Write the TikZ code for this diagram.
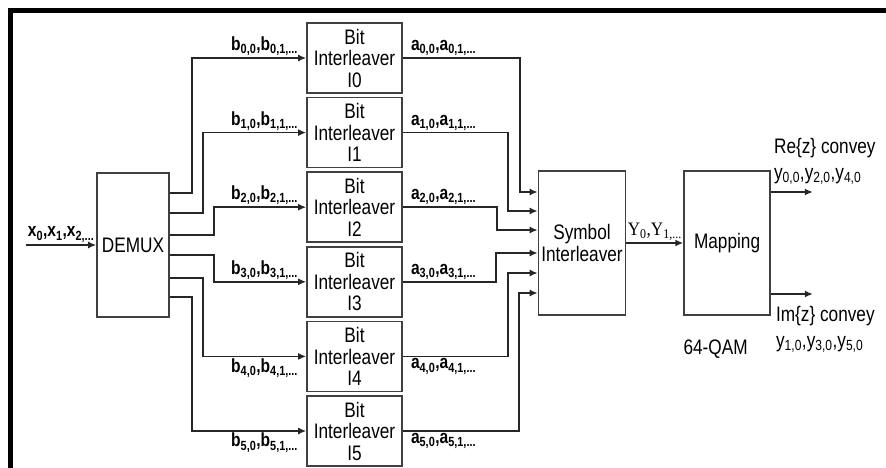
\documentclass[tikz,border=0pt]{standalone}
\usepackage{fontspec}
\setmainfont[FakeStretch=0.82]{Liberation Sans}
\newfontfamily\serfont[FakeStretch=0.9]{Liberation Serif}
\usetikzlibrary{arrows.meta,positioning}
\tikzset{
  block/.style={draw=black!75, line width=1.6pt, align=center, inner sep=0pt,
                font=\fontsize{21}{21.5}\selectfont},
  bitbox/.style={block, minimum width=95pt, minimum height=70pt},
  bigbox/.style={block, minimum width=87pt, minimum height=144pt},
  flowarrow/.style={-{Latex[length=8pt,width=7pt]}, line width=1.6pt, draw=black!85},
  seq/.style={font=\fontsize{19}{20}\selectfont\bfseries, inner sep=2pt},
  outlbl/.style={font=\fontsize{21}{26}\selectfont, align=left, inner sep=2pt}
}
\newcommand{\sq}[2]{#1\textsubscript{#2}}

\begin{document}
\begin{tikzpicture}[x=1pt, y=-1pt]
  \useasboundingbox (0,0) rectangle (886,468);
  \draw[line width=4.5pt] (900,10.5) -- (10.5,10.5) -- (10.5,480);

  \node[block, minimum width=72pt, minimum height=144pt] (demux) at (133,245) {DEMUX};
  \node[bitbox] (bi0) at (354.5,58) {Bit\\Interleaver\\I0};
  \node[bitbox, below=3pt of bi0] (bi1) {Bit\\Interleaver\\I1};
  \node[bitbox, below=3pt of bi1] (bi2) {Bit\\Interleaver\\I2};
  \node[bitbox, below=3pt of bi2] (bi3) {Bit\\Interleaver\\I3};
  \node[bitbox, below=3pt of bi3] (bi4) {Bit\\Interleaver\\I4};
  \node[bitbox, below=3pt of bi4] (bi5) {Bit\\Interleaver\\I5};
  \node[bigbox] (sym) at (582,243) {Symbol\\Interleaver};
  \node[bigbox, minimum width=86pt, right=57pt of sym] (map) {Mapping};
  \node[outlbl, anchor=north west, inner sep=0pt] (qam)
    at ([yshift=-24pt]map.south west) {64-QAM};

  \coordinate (xin) at (26,245);
  \draw[flowarrow] (xin)
    -- node[seq, above] {\sq{x}{0},\sq{x}{1},\sq{x}{2,...}} (demux.west);

  \draw[flowarrow] ([yshift=52pt]demux.east) -- ++(22,0) |- (bi0.west);
  \draw[flowarrow] ([yshift=32pt]demux.east) -- ++(33,0) |- (bi1.west);
  \draw[flowarrow] ([yshift=10pt]demux.east) -- ++(44,0) |- (bi2.west);
  \draw[flowarrow] ([yshift=-10pt]demux.east) -- ++(44,0) |- (bi3.west);
  \draw[flowarrow] ([yshift=-33pt]demux.east) -- ++(33,0) |- (bi4.west);
  \draw[flowarrow] ([yshift=-52pt]demux.east) -- ++(22,0) |- (bi5.west);

  \node[seq, anchor=south east] (lb0) at ([xshift=-6pt]bi0.west) {\sq{b}{0,0},\sq{b}{0,1,...}};
  \node[seq, anchor=south east] (lb1) at ([xshift=-6pt]bi1.west) {\sq{b}{1,0},\sq{b}{1,1,...}};
  \node[seq, anchor=south east] (lb2) at ([xshift=-6pt]bi2.west) {\sq{b}{2,0},\sq{b}{2,1,...}};
  \node[seq, anchor=south east] (lb3) at ([xshift=-6pt]bi3.west) {\sq{b}{3,0},\sq{b}{3,1,...}};
  \node[seq, anchor=north east] (lb4) at ([xshift=-6pt]bi4.west) {\sq{b}{4,0},\sq{b}{4,1,...}};
  \node[seq, anchor=north east] (lb5) at ([xshift=-6pt]bi5.west) {\sq{b}{5,0},\sq{b}{5,1,...}};

  \draw[flowarrow] (bi0.east) -- ++(117,0) |- ([yshift=51pt]sym.west);
  \draw[flowarrow] (bi1.east) -- ++(105,0) |- ([yshift=32pt]sym.west);
  \draw[flowarrow] (bi2.east) -- ++(94,0) |- ([yshift=13pt]sym.west);
  \draw[flowarrow] (bi3.east) -- ++(93,0) |- ([yshift=-10pt]sym.west);
  \draw[flowarrow] (bi4.east) -- ++(105,0) |- ([yshift=-30pt]sym.west);
  \draw[flowarrow] (bi5.east) -- ++(116,0) |- ([yshift=-50pt]sym.west);

  \node[seq, anchor=south west] (la0) at ([xshift=6pt]bi0.east) {\sq{a}{0,0},\sq{a}{0,1,...}};
  \node[seq, anchor=south west] (la1) at ([xshift=6pt]bi1.east) {\sq{a}{1,0},\sq{a}{1,1,...}};
  \node[seq, anchor=south west] (la2) at ([xshift=6pt]bi2.east) {\sq{a}{2,0},\sq{a}{2,1,...}};
  \node[seq, anchor=south west] (la3) at ([xshift=6pt]bi3.east) {\sq{a}{3,0},\sq{a}{3,1,...}};
  \node[seq, anchor=north west] (la4) at ([xshift=6pt]bi4.east) {\sq{a}{4,0},\sq{a}{4,1,...}};
  \node[seq, anchor=north west] (la5) at ([xshift=6pt]bi5.east) {\sq{a}{5,0},\sq{a}{5,1,...}};

  \draw[flowarrow] (sym.east)
    -- node[above, inner sep=2pt, font=\fontsize{19}{20}\selectfont\serfont]
       {\sq{Y}{0},\sq{Y}{1,...}} (map.west);

  \coordinate (reout) at ([xshift=42pt,yshift=51pt]map.east);
  \coordinate (imout) at ([xshift=42pt,yshift=-51pt]map.east);
  \draw[flowarrow] ([yshift=51pt]map.east) -- (reout);
  \draw[flowarrow] ([yshift=-51pt]map.east) -- (imout);
  \node[outlbl, anchor=south west] (relbl) at ([xshift=1pt,yshift=56pt]map.east)
    {Re\{z\} convey\\\sq{y}{0,0},\sq{y}{2,0},\sq{y}{4,0}};
  \node[outlbl, anchor=north west] (imlbl) at ([xshift=3pt,yshift=-61pt]map.east)
    {Im\{z\} convey\\\sq{y}{1,0},\sq{y}{3,0},\sq{y}{5,0}};
\end{tikzpicture}
\end{document}
